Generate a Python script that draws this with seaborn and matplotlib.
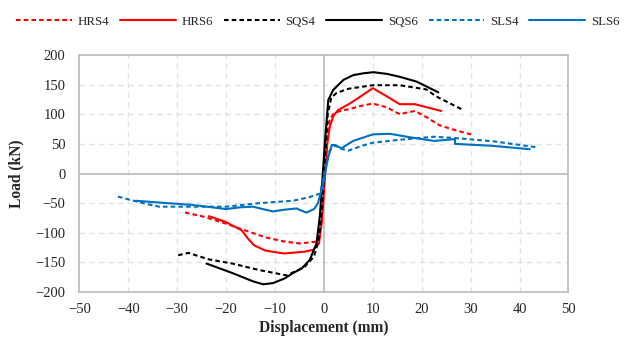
import matplotlib
matplotlib.use("Agg")
import matplotlib.pyplot as plt
from matplotlib.lines import Line2D
import seaborn as sns
import pandas as pd

# Load-displacement envelopes (displacement in mm, load in kN)
hrs4_x = [-28.4, -25, -21, -17.3, -14, -11.8, -8, -4.9, -1.5, -0.6, 0.0, 0.6, 1.2, 2.0, 2.9,
          5.3, 7.5, 10.0, 12.8, 15.5, 17.0, 18.6, 20.9, 23.6, 26.5, 30.1]
hrs4_y = [-65.8, -72, -82, -92.5, -102, -108, -115, -118, -115, -90, -20, 60, 92, 101, 104.5,
          109, 114, 118, 112, 100, 103, 105.5, 95.5, 81.5, 74, 66]

hrs6_x = [-23.5, -20, -16.8, -15.5, -14.3, -12, -8.2, -4, -2.2, -1.0, -0.4, 0.2, 0.7, 1.2, 2.0,
          2.9, 5.3, 7.5, 10.0, 12.5, 15.5, 18.6, 24.0]
hrs6_y = [-72, -82, -96, -110, -121, -130, -135, -132, -129, -118, -80, -10, 50, 79, 98,
          107, 118, 130, 144, 132, 117, 117, 105.5]

sqs4_x = [-29.8, -27.7, -23.5, -18.7, -13.2, -7.6, -4, -2, -1, -0.4, 0.2, 0.8, 1.5, 2.6, 5,
          10, 15.5, 20.9, 23, 28.5]
sqs4_y = [-138, -134, -145, -152, -163, -172, -158, -140, -110, -60, 20, 100, 128, 136, 143,
          149, 149, 142, 130, 107]

sqs6_x = [-24, -18.7, -14.5, -12.4, -10.4, -8, -6.3, -4.5, -2.9, -1.5, -0.8, -0.3, 0.2, 0.9,
          1.9, 4, 6, 8, 10.1, 13, 15.6, 19, 23.4]
sqs6_y = [-152, -168, -182, -187, -185, -177, -168, -160, -146, -118, -70, -10, 51, 124,
          141, 158, 166, 169, 171, 168, 163, 155, 137]

sls4_x = [-42.1, -38, -33.7, -27, -20, -13.2, -6.3, -3, -0.8, 0.2, 1.2, 2.3, 3.5, 5, 7.5,
          10, 15.6, 22.5, 26.7, 35, 43.7]
sls4_y = [-39, -48, -56, -56, -56, -50, -46, -40, -34, 6, 39, 47, 42, 38.5, 46,
          52, 57, 62, 60, 54, 44]

sls6_x = [-38.5, -32, -26.9, -20, -17, -14.5, -12, -10.4, -8, -5.6, -3.6, -2, -1.2, -0.3,
          0.9, 1.6, 2.3, 3.6, 6, 10, 13.5, 17.7, 22.5, 26.8, 26.8, 34, 42.1]
sls6_y = [-46, -50, -53, -60, -57, -56, -61, -64, -61, -59, -66, -60, -50, -22,
          28, 48, 48, 42.5, 55, 66, 67, 61, 55, 58, 50, 47, 41]

labels = ["HRS4", "HRS6", "SQS4", "SQS6", "SLS4", "SLS6"]
xs = [hrs4_x, hrs6_x, sqs4_x, sqs6_x, sls4_x, sls6_x]
ys = [hrs4_y, hrs6_y, sqs4_y, sqs6_y, sls4_y, sls6_y]
colors = ["#FF0000", "#FF0000", "#000000", "#000000", "#0070C0", "#0070C0"]
dashed = [True, False, True, False, True, False]

x_ticks = list(range(-50, 51, 10))
y_ticks = list(range(-200, 201, 50))

sns.set_theme(style="white")
plt.rcParams["font.family"] = ["Liberation Serif", "DejaVu Serif"]

fig = plt.figure(figsize=(6.33, 3.41), dpi=100)
ax = fig.add_axes([0.1253, 0.1437, 0.7727, 0.695])

grid_c = "#E3E3E3"
for xv in x_ticks:
    if xv not in (-50, 0, 50):
        ax.axvline(xv, color=grid_c, lw=1.0, dashes=(4, 3), zorder=0)
for yv in y_ticks:
    if yv not in (-200, 0, 200):
        ax.axhline(yv, color=grid_c, lw=1.0, dashes=(4, 3), zorder=0)
ax.axvline(0, color="#BFBFBF", lw=1.3, zorder=1)
ax.axhline(0, color="#BFBFBF", lw=1.3, zorder=1)

DASH = (2.2, 1.5)
handles = []
for lab, x, y, c, d in zip(labels, xs, ys, colors, dashed):
    df = pd.DataFrame({"disp": x, "load": y})
    sns.lineplot(data=df, x="disp", y="load", sort=False, estimator=None,
                 color=c, lw=1.5, ax=ax, zorder=3)
    ln = ax.lines[-1]
    if d:
        ln.set_dashes(DASH)
    h = Line2D([], [], color=c, lw=1.5)
    if d:
        h.set_dashes(DASH)
    handles.append(h)

ax.set_xlim(-50, 50)
ax.set_ylim(-200, 200)
ax.set_xticks(x_ticks)
ax.set_yticks(y_ticks)
ax.tick_params(axis="both", length=0, labelsize=10.5, colors="#262626")
ax.tick_params(axis="x", pad=8)
ax.tick_params(axis="y", pad=10)
for s in ax.spines.values():
    s.set_color("#BFBFBF")
    s.set_linewidth(1.3)

ax.set_xlabel("Displacement (mm)", fontsize=11.2, fontweight="bold", labelpad=3)
ax.set_ylabel("Load (kN)", fontsize=11.2, fontweight="bold", labelpad=8)

fig.legend(handles, labels, loc="center", bbox_to_anchor=(0.502, 0.936), ncol=6,
           frameon=False, fontsize=9.3, handlelength=4.3, handletextpad=0.45,
           columnspacing=0.85)

fig.savefig("out.png", dpi=100)
